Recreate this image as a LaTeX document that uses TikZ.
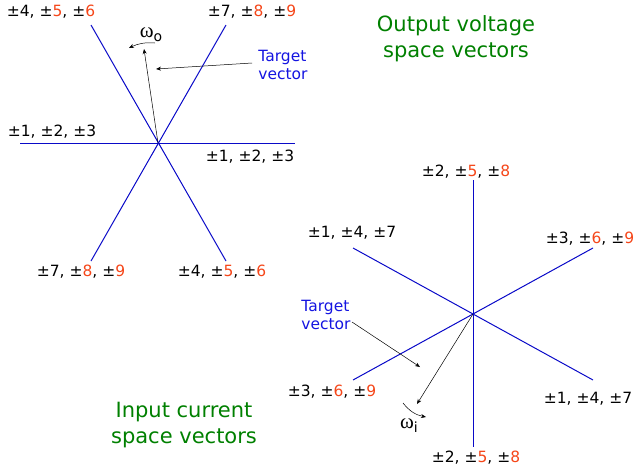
\documentclass[tikz,border=0pt]{standalone}
\usepackage{fontspec}
\setmainfont{DejaVu Sans}
\newfontfamily\grk{Liberation Serif}
\usetikzlibrary{arrows.meta}
\definecolor{ored}{RGB}{245,70,25}
\definecolor{dgreen}{RGB}{0,128,0}
\definecolor{lblue}{RGB}{20,20,225}
\definecolor{axblue}{RGB}{10,10,200}
\newcommand{\pr}[1]{\textcolor{ored}{#1}}
\newcommand{\omsub}[1]{{\grk ω}\raisebox{-0.35ex}{\fontsize{14}{16}\selectfont #1}}
\begin{document}
\begin{tikzpicture}[x=1pt,y=-1pt,
  lab/.style={font=\fontsize{15.5}{18}\selectfont, inner sep=0pt, text=black},
  ttl/.style={font=\fontsize{21}{26}\selectfont, text=dgreen, align=center, inner sep=0pt},
  tgt/.style={font=\fontsize{15.5}{18}\selectfont, text=lblue, align=left, inner sep=0pt},
  axis/.style={axblue, line width=1pt},
  vec/.style={black, line width=0.5pt, -{Stealth[length=5pt,width=4pt]}},
  omg/.style={font=\fontsize{21}{22}\selectfont, inner sep=0pt}]
\useasboundingbox (0,0) rectangle (635,469);
% ---------- top diagram ----------
\coordinate (c1) at (158,143);
\coordinate (a1) at (91,25);  \coordinate (a2) at (226,261);
\coordinate (b1) at (226,25); \coordinate (b2) at (91,261);
\coordinate (h1) at (20,143); \coordinate (h2) at (295,143);
\draw[axis] (a1) -- (a2);
\draw[axis] (b1) -- (b2);
\draw[axis] (h1) -- (h2);
\node[lab] (t1) at (51,12) {±4, ±\pr{5}, ±\pr{6}};
\node[lab] (t2) at (252,12) {±7, ±\pr{8}, ±\pr{9}};
\node[lab] (t3) at (52,132) {±1, ±2, ±3};
\node[lab] (t4) at (250,157) {±1, ±2, ±3};
\node[lab] (t5) at (81,272) {±7, ±\pr{8}, ±\pr{9}};
\node[lab] (t6) at (222,272) {±4, ±\pr{5}, ±\pr{6}};
\coordinate (v1) at (144,49);
\draw[vec] (c1) -- (v1);
\node[tgt] (tv1) at (283,65) {Target\\vector};
\coordinate (p1) at (156,69);
\coordinate (q1) at (252,63);
\draw[vec] (q1) -- (p1);
\node[omg] (w1) at (151,35) {\omsub{o}};
\coordinate (wa1) at (155,43); \coordinate (wb1) at (129,48);
\draw[vec] (wa1) to[bend right=15] (wb1);
\node[ttl] (T1) at (456,39) {Output voltage\\space vectors};
% ---------- bottom diagram ----------
\coordinate (c2) at (473,314);
\coordinate (d1) at (473.3,180); \coordinate (d2) at (473.3,447);
\coordinate (e1) at (353,248); \coordinate (e2) at (593,380);
\coordinate (f1) at (593,248); \coordinate (f2) at (353,380);
\draw[axis] (d1) -- (d2);
\draw[axis] (e1) -- (e2);
\draw[axis] (f1) -- (f2);
\node[lab] (s1) at (466,172) {±2, ±\pr{5}, ±\pr{8}};
\node[lab] (s2) at (352,233) {±1, ±4, ±7};
\node[lab] (s3) at (590,239) {±3, ±\pr{6}, ±\pr{9}};
\node[lab] (s4) at (332,392) {±3, ±\pr{6}, ±\pr{9}};
\node[lab] (s5) at (588,399) {±1, ±4, ±7};
\node[lab] (s6) at (476,458) {±2, ±\pr{5}, ±\pr{8}};
\coordinate (v2) at (417,404);
\draw[vec] (c2) -- (v2);
\node[tgt] (tv2) at (326,315) {Target\\vector};
\coordinate (q2) at (352,322); \coordinate (p2) at (420,367);
\draw[vec] (q2) -- (p2);
\coordinate (wa2) at (403,403); \coordinate (wb2) at (426,417);
\draw[vec] (wa2) to[bend right=20] (wb2);
\node[omg] (w2) at (409,426) {\omsub{i}};
\node[ttl] (T2) at (184,425) {Input current\\space vectors};
\end{tikzpicture}
\end{document}
